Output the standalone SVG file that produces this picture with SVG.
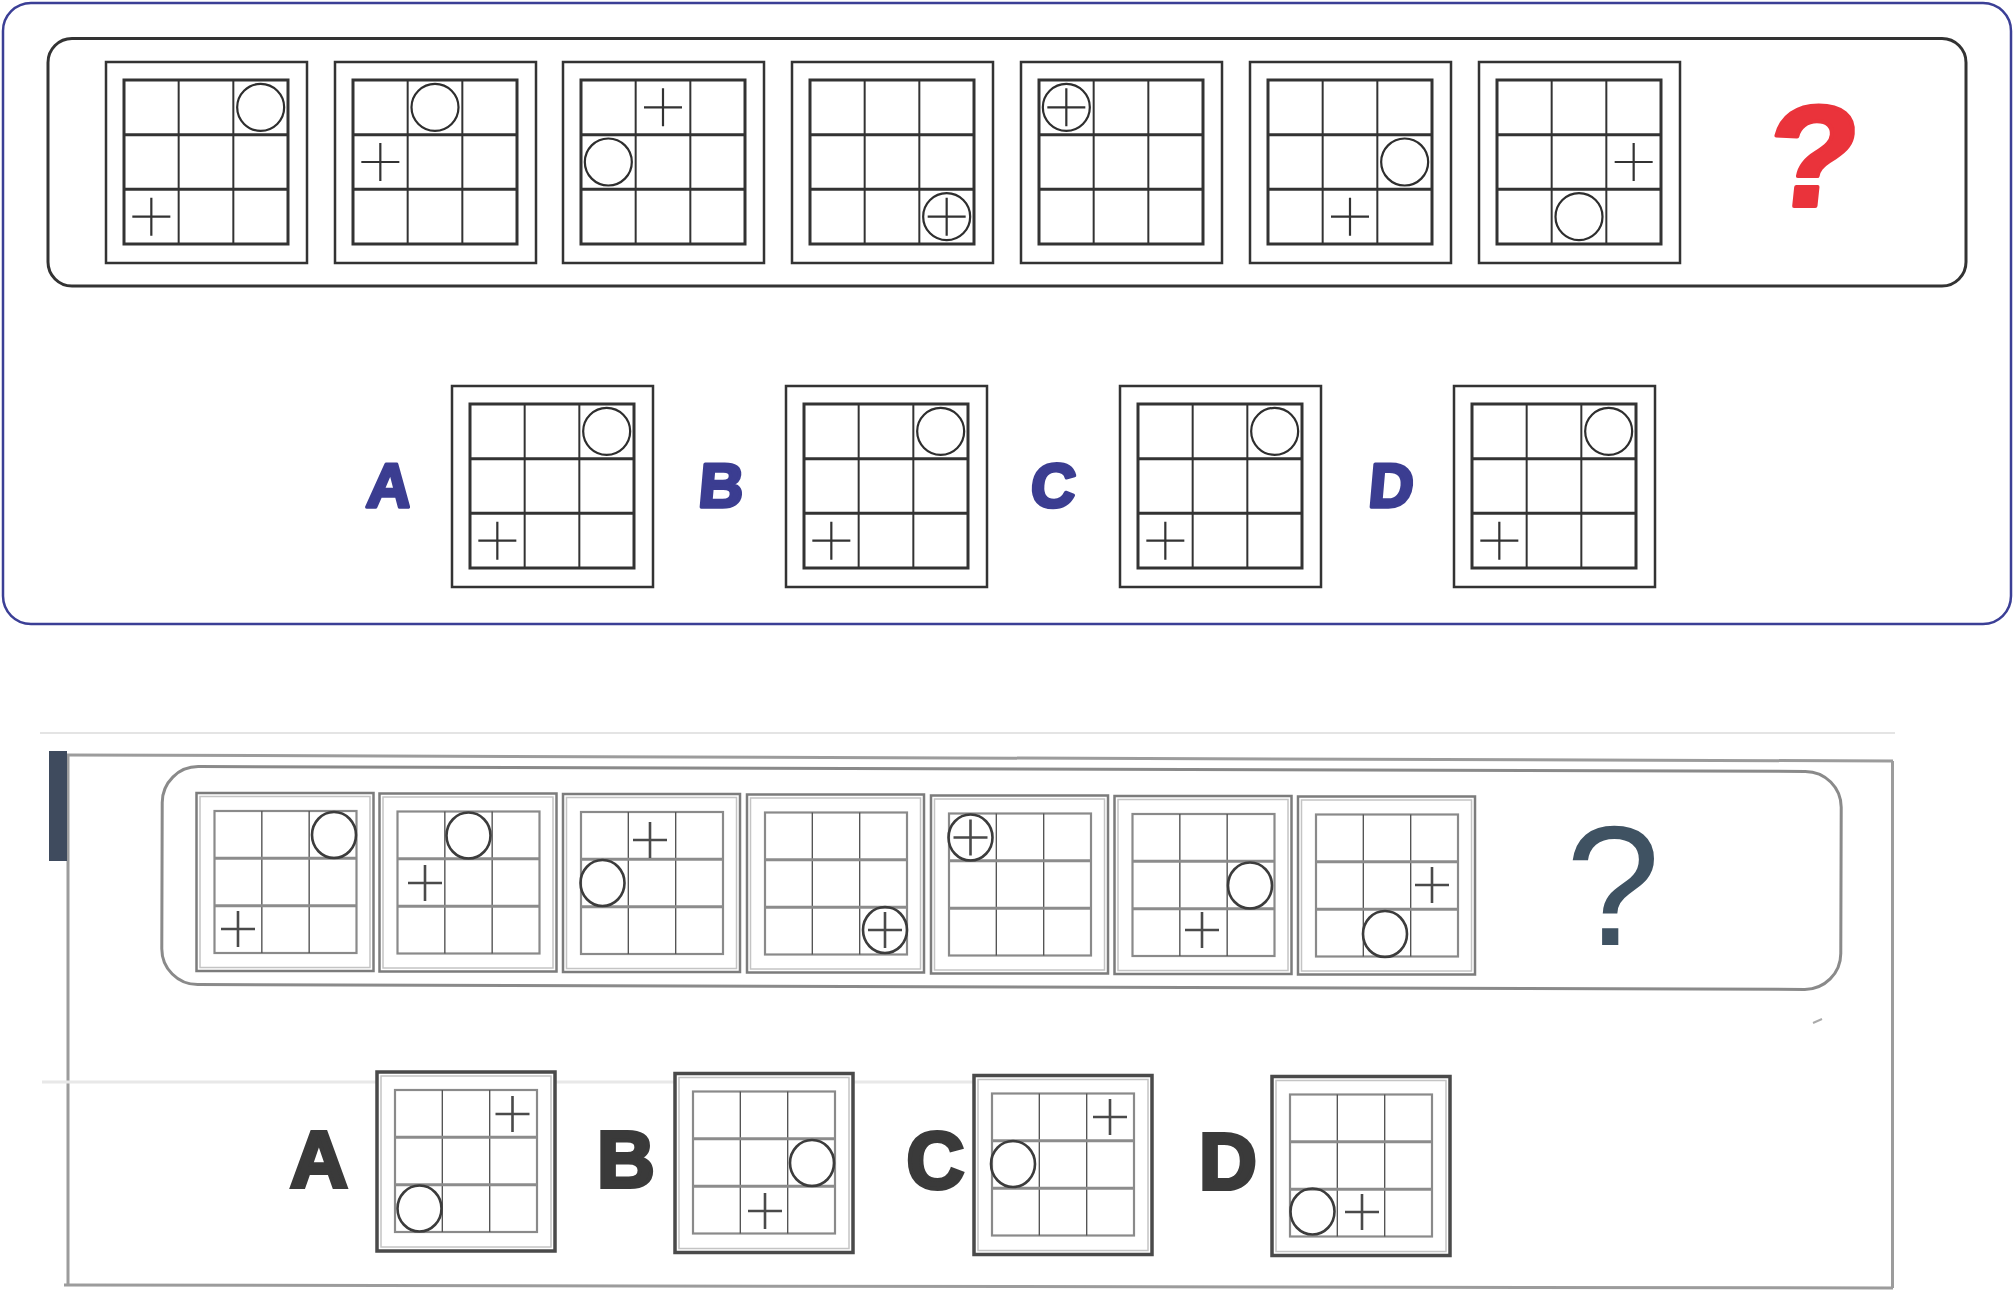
<svg xmlns="http://www.w3.org/2000/svg" width="2014" height="1300" viewBox="0 0 2014 1300">
<style>
.tf{fill:#fff;stroke:#333;stroke-width:2.5}
.tg{fill:#fff;stroke:#333;stroke-width:3}
.tv{stroke:#333;stroke-width:2}
.th{stroke:#333;stroke-width:3}
.tc{fill:none;stroke:#2e2e2e;stroke-width:2.2}
.tx{fill:none;stroke:#333;stroke-width:2.2}
.lf{fill:#fff;stroke:#7c7c7c;stroke-width:2.5}
.lf2{fill:none;stroke:#c4c4c4;stroke-width:1.5}
.lg{fill:none;stroke:#8a8a8a;stroke-width:2.2}
.lv{stroke:#555;stroke-width:1.4}
.lh{stroke:#8c8c8c;stroke-width:3}
.of{fill:#fff;stroke:#4a4a4a;stroke-width:3.5}
.lc{fill:none;stroke:#3c3c3c;stroke-width:2.6}
.lx{fill:none;stroke:#4a4a4a;stroke-width:2.6}
.scan{fill:none;stroke:#9c9c9c;stroke-width:3}
.tlab{font-family:"Liberation Sans",Arial,sans-serif;font-weight:bold;font-size:62px;fill:#3b3d91;stroke:#3b3d91;stroke-width:3.5;stroke-linejoin:round;text-anchor:middle}
.llab{font-family:"Liberation Sans",Arial,sans-serif;font-weight:bold;font-size:80px;fill:#3a3a3a;stroke:#3a3a3a;stroke-width:4;text-anchor:middle}
</style>
<defs>
<g id="tframe">
<rect x="0" y="0" width="201" height="201" class="tf"/>
<rect x="18" y="18" width="164" height="164" class="tg"/>
<line x1="72.67" y1="18" x2="72.67" y2="182" class="tv"/>
<line x1="127.33" y1="18" x2="127.33" y2="182" class="tv"/>
<line x1="18" y1="72.67" x2="182" y2="72.67" class="th"/>
<line x1="18" y1="127.33" x2="182" y2="127.33" class="th"/>
</g>
<circle id="tcirc" cx="0" cy="0" r="23.5" class="tc"/>
<path id="tcross" d="M-19 0H19M0-19V19" class="tx"/>
<g id="lframe">
<rect x="0" y="0" width="177" height="178" class="lf"/>
<rect x="3.5" y="3.5" width="170" height="171" class="lf2"/>
<rect x="18" y="18" width="142" height="142" class="lg"/>
<line x1="65.33" y1="18" x2="65.33" y2="160" class="lv"/>
<line x1="112.67" y1="18" x2="112.67" y2="160" class="lv"/>
<line x1="18" y1="65.33" x2="160" y2="65.33" class="lh"/>
<line x1="18" y1="112.67" x2="160" y2="112.67" class="lh"/>
</g>
<g id="oframe">
<rect x="0" y="0" width="178" height="179" class="of"/>
<rect x="4" y="4" width="170" height="171" class="lf2"/>
<rect x="18" y="18" width="142" height="142" class="lg"/>
<line x1="65.33" y1="18" x2="65.33" y2="160" class="lv"/>
<line x1="112.67" y1="18" x2="112.67" y2="160" class="lv"/>
<line x1="18" y1="65.33" x2="160" y2="65.33" class="lh"/>
<line x1="18" y1="112.67" x2="160" y2="112.67" class="lh"/>
</g>
<ellipse id="lcirc" cx="0" cy="0" rx="22" ry="23" class="lc"/>
<path id="lcross" d="M-17 0H17M0-18V18" class="lx"/>
</defs>

<!-- top (clean) puzzle -->
<g id="top-frame">
<rect x="3" y="3" width="2008" height="621" rx="28" fill="#fff" stroke="#3b3f96" stroke-width="2.5"/>
<rect x="48" y="38.5" width="1918" height="247.5" rx="24" fill="#fff" stroke="#333" stroke-width="3"/>
</g>
<g id="t1"><use href="#tframe" x="106" y="62"/><use href="#tcirc" x="260.67" y="107.33"/><use href="#tcross" x="151.33" y="216.67"/></g>
<g id="t2"><use href="#tframe" x="335" y="62"/><use href="#tcirc" x="435" y="107.33"/><use href="#tcross" x="380.33" y="162"/></g>
<g id="t3"><use href="#tframe" x="563" y="62"/><use href="#tcross" x="663" y="107.33"/><use href="#tcirc" x="608.33" y="162"/></g>
<g id="t4"><use href="#tframe" x="792" y="62"/><use href="#tcirc" x="946.67" y="216.67"/><use href="#tcross" x="946.67" y="216.67"/></g>
<g id="t5"><use href="#tframe" x="1021" y="62"/><use href="#tcirc" x="1066.33" y="107.33"/><use href="#tcross" x="1066.33" y="107.33"/></g>
<g id="t6"><use href="#tframe" x="1250" y="62"/><use href="#tcirc" x="1404.67" y="162"/><use href="#tcross" x="1350" y="216.67"/></g>
<g id="t7"><use href="#tframe" x="1479" y="62"/><use href="#tcross" x="1633.67" y="162"/><use href="#tcirc" x="1579" y="216.67"/></g>
<g id="t-question"><text transform="translate(1808 206) skewX(-6) scale(1.04 1)" x="0" y="0" font-family="Liberation Sans, Arial, sans-serif" font-weight="bold" font-size="144" fill="#ea333b" stroke="#ea333b" stroke-width="4" stroke-linejoin="round" text-anchor="middle">?</text></g>

<g id="tA"><text x="388" y="507" class="tlab" transform="skewX(-5) translate(44 0)">A</text><use href="#tframe" x="452" y="386"/><use href="#tcirc" x="606.67" y="431.33"/><use href="#tcross" x="497.33" y="540.67"/></g>
<g id="tB"><text x="720" y="507" class="tlab" transform="skewX(-5) translate(44 0)">B</text><use href="#tframe" x="786" y="386"/><use href="#tcirc" x="940.67" y="431.33"/><use href="#tcross" x="831.33" y="540.67"/></g>
<g id="tC"><text x="1052" y="507" class="tlab" transform="skewX(-5) translate(44 0)">C</text><use href="#tframe" x="1120" y="386"/><use href="#tcirc" x="1274.67" y="431.33"/><use href="#tcross" x="1165.33" y="540.67"/></g>
<g id="tD"><text x="1390" y="507" class="tlab" transform="skewX(-5) translate(44 0)">D</text><use href="#tframe" x="1454" y="386"/><use href="#tcirc" x="1608.67" y="431.33"/><use href="#tcross" x="1499.33" y="540.67"/></g>

<g id="connectors"/>

<!-- lower (scanned) puzzle -->
<g id="scan-frame">
<line x1="40" y1="733" x2="1895" y2="733" stroke="#e4e4e4" stroke-width="2"/>
<line x1="66" y1="755" x2="1893" y2="761" class="scan"/>
<line x1="68" y1="755" x2="68" y2="1285" class="scan" stroke-width="2.5"/>
<line x1="1892.5" y1="761" x2="1892.5" y2="1288" class="scan" stroke-width="2.5"/>
<line x1="64" y1="1285" x2="1893" y2="1288" class="scan"/>
<rect x="49" y="751" width="18" height="110" fill="#3f4b5e"/>
<line x1="42" y1="1082" x2="1100" y2="1082" stroke="#e8e8e8" stroke-width="3"/>
<line x1="1813" y1="1023" x2="1822" y2="1019" stroke="#aaa" stroke-width="2"/>
<rect x="162" y="769" width="1679" height="218" rx="36" fill="#fff" stroke="#8a8a8a" stroke-width="3" transform="rotate(0.17 1000 878)"/>
</g>
<g id="l1"><use href="#lframe" x="196.5" y="793"/><use href="#lcirc" x="334" y="835"/><use href="#lcross" x="238" y="929"/></g>
<g id="l2"><use href="#lframe" x="379.5" y="793.5"/><use href="#lcirc" x="468.5" y="835.5"/><use href="#lcross" x="425" y="883"/></g>
<g id="l3"><use href="#lframe" x="563" y="794"/><use href="#lcross" x="650" y="840"/><use href="#lcirc" x="602.5" y="883"/></g>
<g id="l4"><use href="#lframe" x="747" y="794.5"/><use href="#lcirc" x="885" y="930"/><use href="#lcross" x="885" y="930"/></g>
<g id="l5"><use href="#lframe" x="931" y="795.5"/><use href="#lcirc" x="970.5" y="837.5"/><use href="#lcross" x="970.5" y="837.5"/></g>
<g id="l6"><use href="#lframe" x="1114.5" y="796"/><use href="#lcirc" x="1250" y="885.5"/><use href="#lcross" x="1202" y="930"/></g>
<g id="l7"><use href="#lframe" x="1298" y="796.5"/><use href="#lcirc" x="1385" y="934"/><use href="#lcross" x="1432" y="885"/></g>
<g id="l-question"><text x="1613" y="945" font-family="Liberation Sans, Arial, sans-serif" font-size="170" fill="#3f5262" text-anchor="middle">?</text></g>

<g id="lA"><text x="319" y="1187" class="llab">A</text><use href="#oframe" x="377" y="1072"/><use href="#lcirc" x="419.5" y="1208.5"/><use href="#lcross" x="512.5" y="1114"/></g>
<g id="lB"><text x="626" y="1187" class="llab">B</text><use href="#oframe" x="675" y="1073.5"/><use href="#lcirc" x="812" y="1163"/><use href="#lcross" x="765" y="1211"/></g>
<g id="lC"><text x="935.5" y="1188" class="llab">C</text><use href="#oframe" x="974" y="1075.5"/><use href="#lcirc" x="1013" y="1164"/><use href="#lcross" x="1110" y="1117"/></g>
<g id="lD"><text x="1228" y="1189" class="llab">D</text><use href="#oframe" x="1272" y="1076.5"/><use href="#lcirc" x="1312.5" y="1211.5"/><use href="#lcross" x="1362" y="1212"/></g>
</svg>
